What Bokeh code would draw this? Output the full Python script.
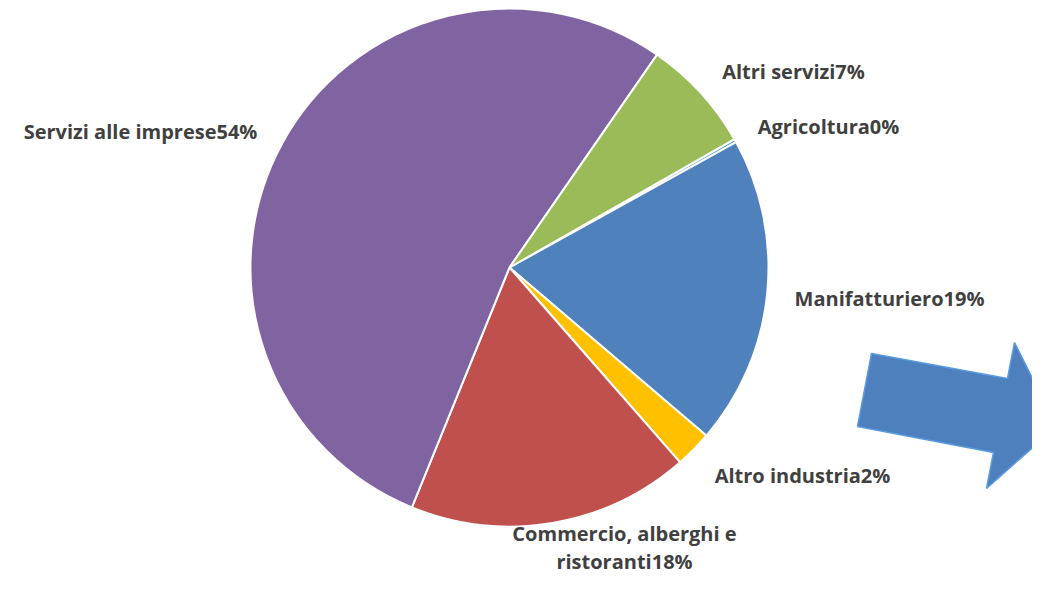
from bokeh.plotting import figure
from bokeh.models import Range1d, ColumnDataSource
from bokeh.core.properties import value
from bokeh.embed import file_html
from bokeh.resources import INLINE
import math

# ---- data (clockwise order starting after "Altri servizi") ----
categories = ["Agricoltura", "Manifatturiero", "Altro industria",
              "Commercio, alberghi e\nristoranti", "Servizi alle imprese", "Altri servizi"]
values = [0.2, 19.3, 2.3, 17.6, 53.5, 7.1]
pct_labels = ["0%", "19%", "2%", "18%", "54%", "7%"]
colors = ["#4BACC6", "#4F81BD", "#FFC000", "#C0504D", "#8064A2", "#9BBB59"]

# ---- layout ----
W, H = 1032, 579
cx, cy, R = 509, 312, 259
start_deg = 29.7
label_pos = [(828, 453), (889, 281), (802, 104), (624, 32), (140, 448), (793, 508)]
line_gap = 28

p = figure(width=W, height=H, output_backend="svg", toolbar_location=None,
           x_range=Range1d(0, W), y_range=Range1d(0, H), min_border=0)
p.axis.visible = False
p.grid.visible = False
p.outline_line_color = None
p.background_fill_color = "white"

total = sum(values)
starts, ends = [], []
a = math.radians(start_deg)
for v in values:
    span = 2 * math.pi * v / total
    starts.append(a)
    ends.append(a - span)
    a -= span

src = ColumnDataSource(dict(start=starts, end=ends, color=colors))
p.wedge(x=cx, y=cy, radius=R, start_angle="start", end_angle="end", direction="clock",
        fill_color="color", line_color="white", line_width=2, source=src)

tx, ty, tt = [], [], []
for c, s, (lx, ly) in zip(categories, pct_labels, label_pos):
    lines = (c + s).split("\n")
    n = len(lines)
    for i, ln in enumerate(lines):
        tx.append(lx)
        ty.append(ly + (n - 1) * line_gap / 2 - i * line_gap)
        tt.append(ln)
p.text(x=tx, y=ty, text=tt,
       text_font=value("Open Sans"), text_font_style="bold", text_font_size="20px",
       text_color="#404040", text_align="center", text_baseline="middle")

# decorative block arrow
ax = [871, 1007, 1014, 1056, 986, 993, 857]
ay = [226, 201, 237, 153, 91, 127, 153]
p.patch(ax, ay, fill_color="#4E80BE", line_color="#5A9BE0", line_width=1.5)

open("out.html", "w").write(file_html(p, INLINE))
